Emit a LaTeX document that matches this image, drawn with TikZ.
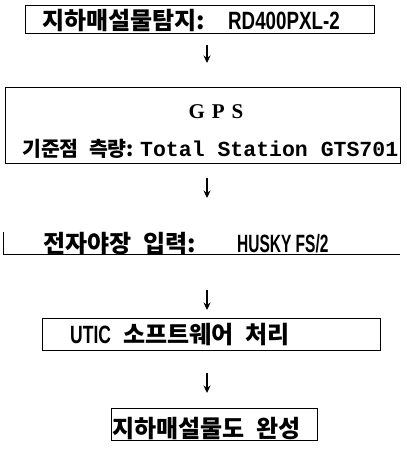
\documentclass[tikz,border=0pt]{standalone}
\usepackage{fontspec}
\usetikzlibrary{arrows.meta}
\newfontfamily\kr{Noto Sans CJK KR}
\newfontfamily\lat{Liberation Sans}
\newfontfamily\mono{Liberation Mono}
\newfontfamily\srf{Liberation Serif}
\newcommand{\ksp}{\hspace{0.5em}}
\begin{document}
\begin{tikzpicture}[x=1pt,y=-1pt,
  box/.style={draw=black, line width=0.9pt, inner sep=0pt},
  edge/.style={draw=black, line width=0.9pt},
  txt/.style={inner sep=0pt, anchor=base west},
  arr/.style={line width=1.6pt, -{Stealth[length=7.5pt,width=7pt]}}]
\useasboundingbox (0,0) rectangle (407,458);
% boxes
\node[box, minimum width=349pt, minimum height=28pt] (b1) at (200,19) {};
\node[box, minimum width=395pt, minimum height=76pt] (b2) at (202.5,125) {};
\node[inner sep=0pt, minimum width=396pt, minimum height=22pt] (b3) at (202,243) {};
\draw[edge] (b3.north west) -- (b3.south west) -- (b3.south east);
\node[box, minimum width=338pt, minimum height=32pt] (b4) at (211,334) {};
\node[box, minimum width=206pt, minimum height=32pt] (b5) at (214,424) {};
% texts
\node[txt] (t1) at (42,29) {\makebox[186pt][l]{\kr\bfseries\fontsize{24}{24}\selectfont 지하매설물탐지:}{\lat\bfseries\fontsize{25}{25}\selectfont\scalebox{0.75}[1]{RD400PXL-2}}};
\node[txt, anchor=base] (g) at (216,118) {\srf\bfseries\fontsize{21}{21}\selectfont G\hspace{7pt}P\hspace{7pt}S};
\node[txt] (t2) at (22,156) {\makebox[118pt][l]{\kr\bfseries\fontsize{20.5}{20.5}\selectfont 기준점\ksp 측량:}{\mono\bfseries\fontsize{21.5}{21.5}\selectfont Total Station GTS701}};
\node[txt] (t3) at (43,252) {\makebox[194pt][l]{\kr\bfseries\fontsize{24}{24}\selectfont 전자야장\ksp 입력:}{\lat\bfseries\fontsize{25}{25}\selectfont\scalebox{0.62}[1]{HUSKY FS/2}}};
\node[txt] (t4) at (70,343) {\makebox[53pt][l]{\lat\bfseries\fontsize{25}{25}\selectfont\scalebox{0.7}[1]{UTIC}}{\kr\bfseries\fontsize{24}{24}\selectfont 소프트웨어\ksp 처리}};
\node[txt] (t5) at (112,437) {\kr\bfseries\fontsize{24}{24}\selectfont 지하매설물도\ksp 완성};
% arrows
\coordinate (a1s) at (207,45);  \coordinate (a1e) at (207,63);
\coordinate (a2s) at (207,178); \coordinate (a2e) at (207,198);
\coordinate (a3s) at (207,290); \coordinate (a3e) at (207,310);
\coordinate (a4s) at (207,373); \coordinate (a4e) at (207,393);
\draw[arr] (a1s) -- (a1e);
\draw[arr] (a2s) -- (a2e);
\draw[arr] (a3s) -- (a3e);
\draw[arr] (a4s) -- (a4e);
\end{tikzpicture}
\end{document}
